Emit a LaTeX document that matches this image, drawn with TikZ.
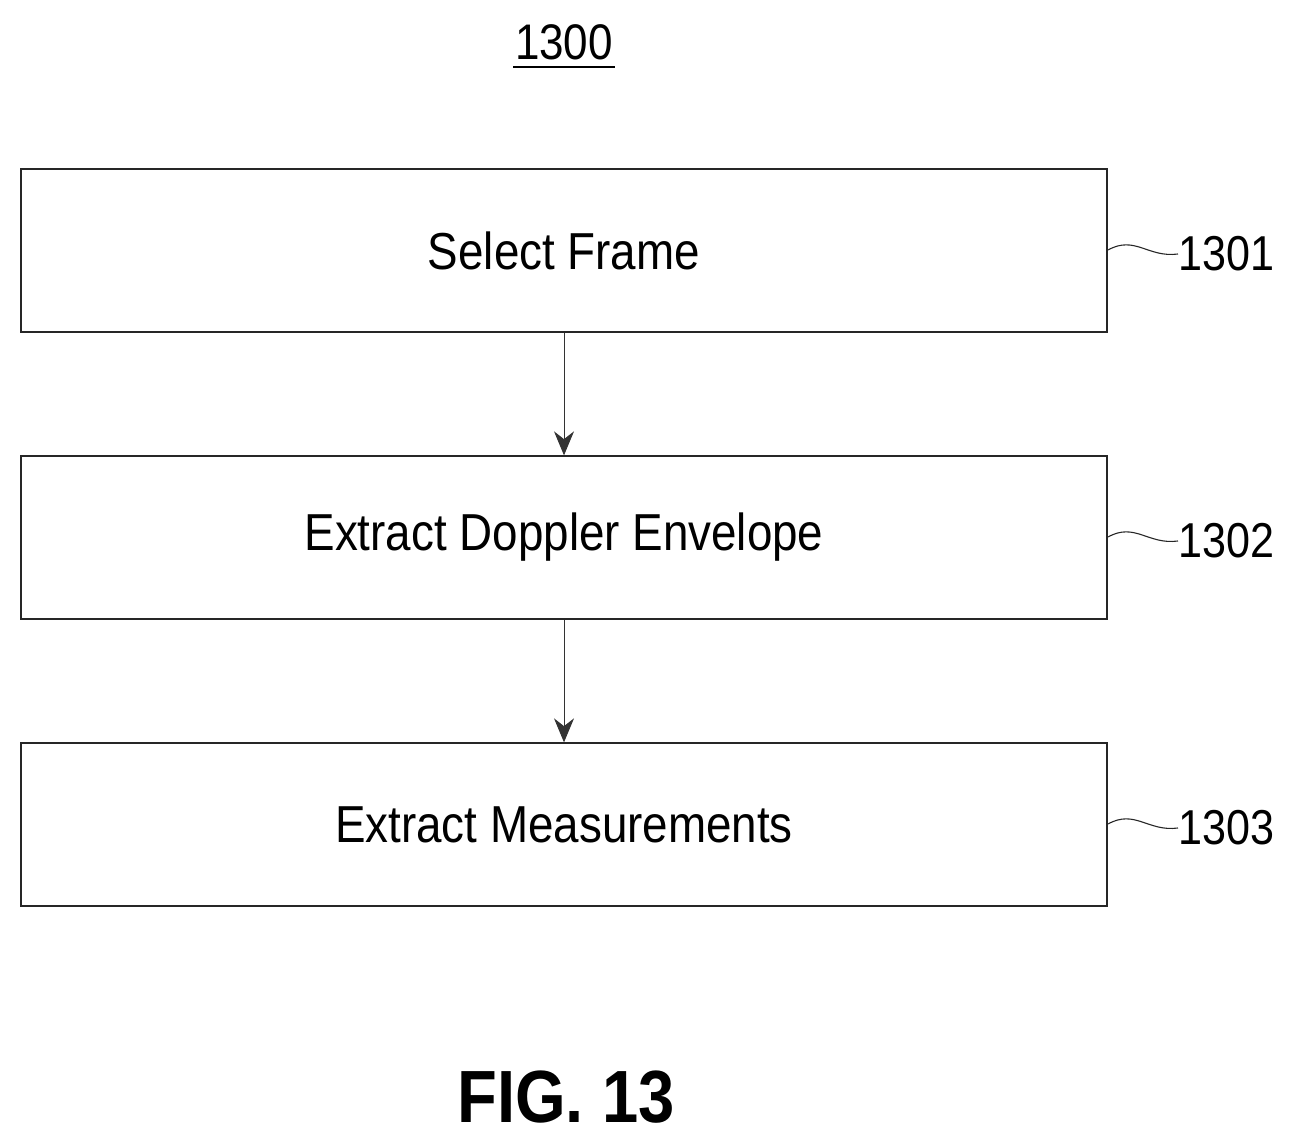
\documentclass[tikz,border=0pt]{standalone}
\usepackage{fontspec}
\setmainfont[FakeStretch=0.88]{Liberation Sans}
\usetikzlibrary{arrows.meta}
\begin{document}
\begin{tikzpicture}[x=1pt,y=-1pt,
  box/.style={draw=black!85,line width=1.3pt,minimum width=1086pt,minimum height=163pt,inner sep=0pt,font=\fontsize{52}{54}\selectfont},
  lab/.style={font=\fontsize{49}{50}\selectfont,anchor=west,inner sep=0pt},
  arr/.style={draw=black!80,line width=0.9pt,-{Stealth[length=24pt,width=20pt]}},
  sq/.style={draw=black!85,line width=1.1pt}]
\useasboundingbox (0,0) rectangle (1296,1148);
\node[box] (b1) at (564,250.5) {Select Frame};
\node[box] (b2) at (564,537.5) {Extract Doppler Envelope};
\node[box] (b3) at (564,824.5) {Extract Measurements};
\draw[arr] (b1.south) -- (b2.north);
\draw[arr] (b2.south) -- (b3.north);
\foreach \i/\n/\y in {1/1301/250,2/1302/537,3/1303/824}{
  \node[lab] (l\i) at (1178,\y+4) {\n};
  \coordinate (s\i) at (1108,\y);
  \draw[sq] (s\i) .. controls (1135,\y-15) and (1148,\y+8) .. (l\i.west);
}
\node[font=\fontsize{50}{52}\selectfont] (t) at (564,42) {1300};
\draw[line width=1.3pt] (513,67) -- (615,67);
\node[font=\fontsize{74}{76}\selectfont\bfseries] (fig) at (566,1097) {FIG. 13};
\end{tikzpicture}
\end{document}
